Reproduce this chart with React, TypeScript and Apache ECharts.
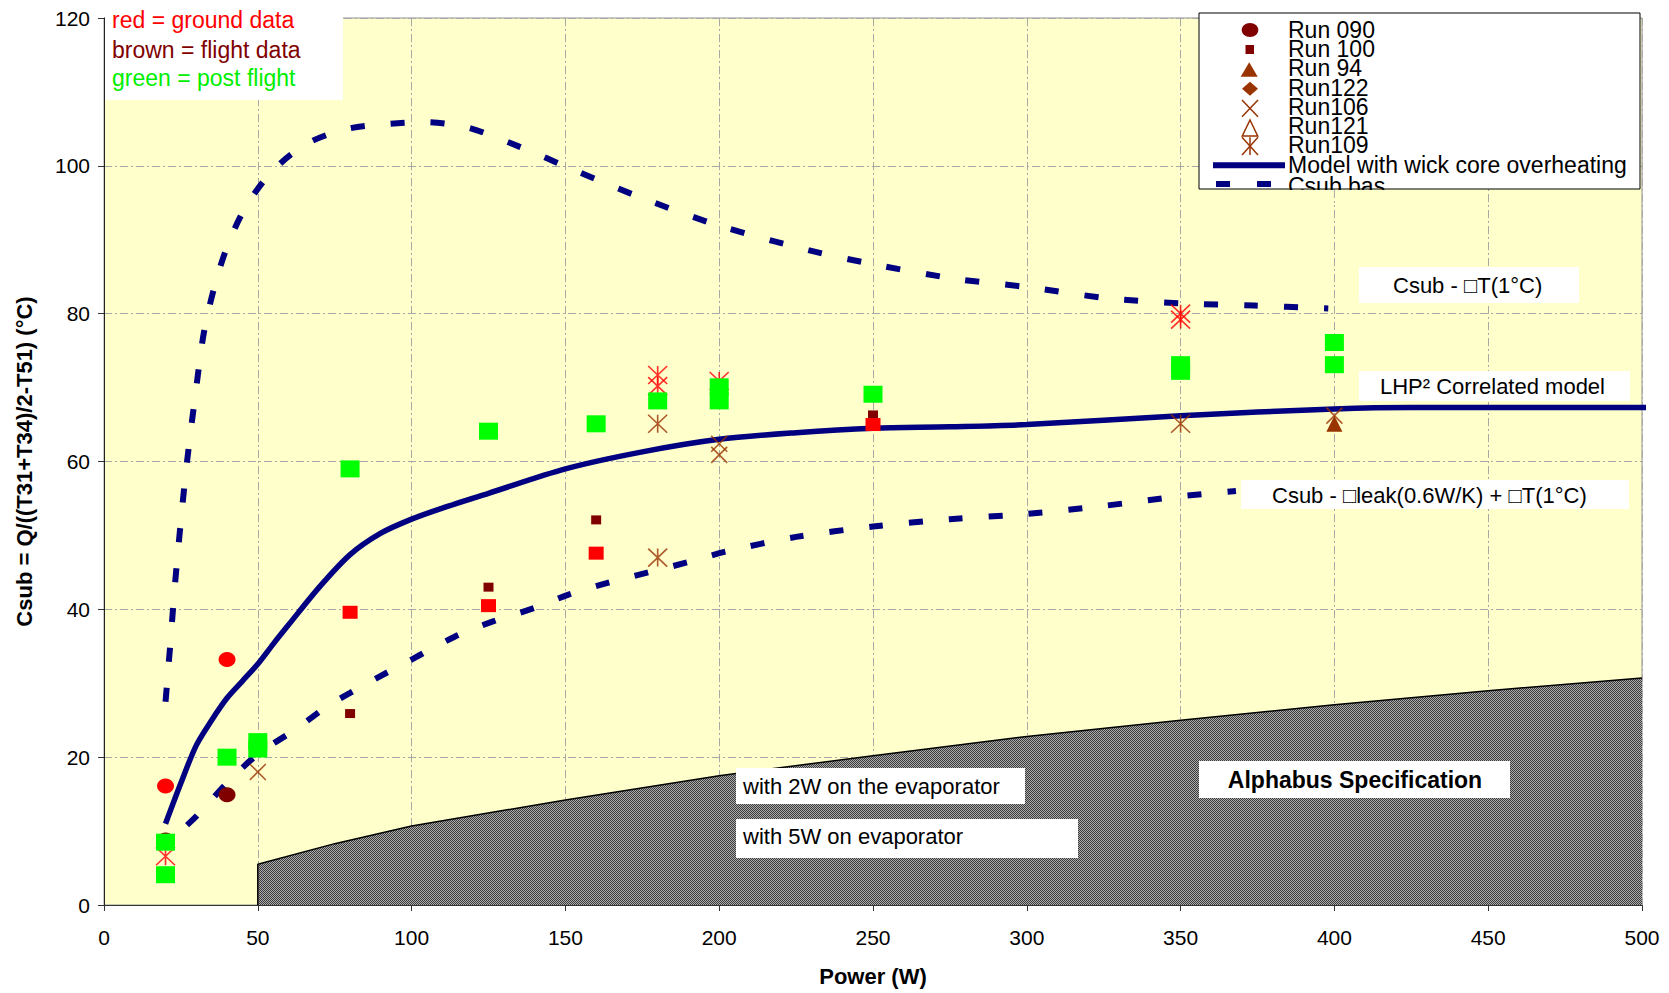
import React, { useEffect, useRef } from "react";
import * as echarts from "echarts";

// ---------- axis ranges ----------
const xMin = 0, xMax = 500, xStep = 50;
const yMin = 0, yMax = 120, yStep = 20;

// ---------- curves ----------
const modelX = [20, 25, 30, 35, 40, 45, 50, 55, 60, 70, 80, 90, 100, 110, 125, 150, 175, 200, 225, 250, 275, 300, 350, 400, 425, 500, 503];
const modelY = [11, 16.5, 21.6, 25, 28, 30.3, 32.6, 35.3, 37.9, 43, 47.4, 50.3, 52.2, 53.7, 55.7, 59, 61.3, 63, 63.9, 64.5, 64.7, 65, 66.2, 67.1, 67.3, 67.3, 67.3];

const upperX = [20, 21.5, 23, 25, 27, 30, 32.5, 36, 40, 46, 55, 66, 78, 90, 104, 118, 135, 153, 174, 200, 229, 250, 277, 300, 326, 350, 374, 398];
const upperY = [27.5, 35, 43, 52, 60, 70, 77.5, 83.8, 89, 94.4, 99.4, 103, 104.9, 105.6, 105.9, 105.2, 102.6, 99.4, 95.8, 91.9, 88.6, 86.7, 84.7, 83.6, 82.1, 81.4, 81.1, 80.7];

const lowerX = [27, 30, 40, 50, 62, 73, 80, 90, 100, 114, 126, 140, 151, 164, 177, 190, 202, 225, 250, 275, 300, 325, 350, 368];
const lowerY = [10.8, 12, 16.5, 20.4, 23.7, 27, 28.7, 31, 33.2, 36.3, 38.3, 40.2, 42, 43.6, 45, 46.4, 47.8, 49.8, 51.2, 52.2, 52.9, 54, 55.3, 56];

const specX = [50, 50, 75, 100, 150, 200, 250, 300, 350, 400, 450, 500];
const specY = [0, 5.5, 8.3, 10.7, 14.2, 17.5, 20.2, 22.8, 25, 27.1, 29, 30.7];

// ---------- measured points ----------
const groundCircles = [[20, 16.1], [40, 33.2]];
const flightCircles = [[20, 8.8], [40, 14.9]];
const groundSquares = [[80, 39.6], [125, 40.5], [160, 47.6], [250, 65.0]];
const flightSquares = [[80, 25.9], [125, 43.0], [160, 52.1], [250, 66.3]];
const groundStars = [[20, 6.6], [180, 71.7], [180, 70.2], [200, 70.9], [350, 80.0], [350, 79.2]];
const flightStars = [[180, 47.0], [180, 65.1], [350, 65.1]];
const flightCrosses = [[50, 18.0], [200, 62.4], [200, 60.9], [400, 66.2]];
const flightTriangles = [[400, 65.1]];
const postFlight = [[20, 4.1], [20, 8.5], [40, 20.0], [50, 22.1], [50, 21.1], [80, 59.0], [125, 64.1], [160, 65.1], [180, 68.2], [200, 70.1], [200, 68.2], [250, 69.1], [350, 73.1], [350, 72.2], [400, 76.1], [400, 73.1]];

// ---------- texts ----------
const legendLabels = ["Run 090", "Run 100", "Run 94", "Run122", "Run106", "Run121", "Run109", "Model with wick core overheating", "Csub bas"];
const noteLines = ["red = ground data", "brown = flight data", "green = post flight"];
const noteColors = ["#FF0000", "#800000", "#00EE00"];
const xName = "Power (W)";
const yName = "Csub = Q/((T31+T34)/2-T51) (°C)";

const zip = (xs: number[], ys: number[]) => xs.map((x, i) => [x, ys[i]]);

const FONT = '"Liberation Sans", Arial, sans-serif';
const NAVY = "#000080";
const SIENNA = "#993300";
const DARKRED = "#800000";

const starPath = "path://M0,0L20,20M20,0L0,20M10,0L10,20";
const crossPath = "path://M0,0L20,20M20,0L0,20";

function makeChecker(): string {
  const c = document.createElement("canvas");
  c.width = 2;
  c.height = 2;
  const ctx = c.getContext("2d")!;
  ctx.fillStyle = "#aaaaaa";
  ctx.fillRect(0, 0, 2, 2);
  ctx.fillStyle = "#3c3c3c";
  ctx.fillRect(0, 0, 1, 1);
  ctx.fillRect(1, 1, 1, 1);
  return c.toDataURL();
}

function txt(text: string, x: number, y: number, size: number, opts: any = {}) {
  return {
    type: "text",
    z: opts.z ?? 101,
    style: {
      text,
      x,
      y,
      fill: opts.fill ?? "#000",
      fontSize: size,
      fontFamily: FONT,
      fontWeight: opts.bold ? "bold" : "normal",
      lineHeight: opts.lh,
      textAlign: opts.align ?? "left",
      align: opts.align ?? "left",
      textVerticalAlign: "middle",
      verticalAlign: "middle",
    },
  };
}

function box(x: number, y: number, w: number, h: number, opts: any = {}) {
  return {
    type: "rect",
    z: opts.z ?? 100,
    shape: { x, y, width: w, height: h },
    style: { fill: opts.fill ?? "#fff", stroke: opts.stroke ?? null, lineWidth: opts.lw ?? 0 },
  };
}

function ln(x1: number, y1: number, x2: number, y2: number, color: string, w = 1.5, z = 102, dash?: number[]) {
  return {
    type: "line",
    z,
    shape: { x1, y1, x2, y2 },
    style: { stroke: color, lineWidth: w, lineDash: dash },
  };
}

export default function App() {
  const ref = useRef<HTMLDivElement>(null);

  useEffect(() => {
    if (!ref.current) return;
    const chart = echarts.init(ref.current, null, { renderer: "svg" });
    const pattern = makeChecker();

    const scatter = (data: number[][], symbol: string, size: any, color: string, stroke?: boolean, z = 5) => ({
      type: "scatter",
      data,
      symbol,
      symbolSize: size,
      z,
      silent: true,
      itemStyle: stroke
        ? { color: "rgba(0,0,0,0)", borderColor: color, borderWidth: 1.6 }
        : { color, opacity: 1 },
    });

    const legendRowY = [30, 49.2, 68.3, 87.5, 106.7, 125.8, 145, 165, 186];
    const mx = 1250;

    const graphic: any[] = [
      // legend box
      box(1199, 13, 441, 176, { stroke: "#000", lw: 1, z: 99 }),
      ...legendLabels.map((t, i) => txt(t, 1288, legendRowY[i], 23, { lh: 18 })),
      // cover for clipped last entry
      box(1284, 190, 112, 14, { fill: "#FFFFCC", z: 103 }),
      ln(1334.4, 190, 1334.4, 204, "#a8a8a8", 1, 104, [8, 3, 2, 3]),
      // legend markers
      { type: "ellipse", z: 102, shape: { cx: mx, cy: 30, rx: 8.3, ry: 7 }, style: { fill: DARKRED } },
      { type: "rect", z: 102, shape: { x: mx - 4.5, y: 45, width: 8.5, height: 9 }, style: { fill: DARKRED } },
      { type: "polygon", z: 102, shape: { points: [[mx - 0.8, 62.3], [mx + 7.7, 76.7], [mx - 9.3, 76.7]] }, style: { fill: SIENNA } },
      { type: "polygon", z: 102, shape: { points: [[mx, 81.7], [mx + 8, 88.7], [mx, 95.7], [mx - 8, 88.7]] }, style: { fill: SIENNA } },
      ln(mx - 8, 100, mx + 8, 116.7, SIENNA),
      ln(mx + 8, 100, mx - 8, 116.7, SIENNA),
      { type: "polygon", z: 102, shape: { points: [[mx, 120], [mx + 7.7, 136], [mx - 7.7, 136]] }, style: { fill: "none", stroke: SIENNA, lineWidth: 1.5 } },
      ln(mx - 8, 137.3, mx + 8, 155, SIENNA),
      ln(mx + 8, 137.3, mx - 8, 155, SIENNA),
      ln(mx, 137.3, mx, 155, SIENNA),
      box(1213, 162.3, 72, 6, { fill: NAVY, z: 102 }),
      box(1216, 181, 14, 6, { fill: NAVY, z: 102 }),
      box(1257, 181, 14, 6, { fill: NAVY, z: 102 }),

      // top-left note
      box(105, 0, 238, 100),
      ...noteLines.map((t, i) => txt(t, 112, [20, 50, 78][i], 23, { fill: noteColors[i] })),

      // annotations
      box(1359, 267, 220, 36),
      txt("Csub - \u25A1T(1°C)", 1393, 285, 22),
      box(1359, 371, 271, 30),
      txt("LHP² Correlated model", 1380, 386, 22),
      box(1241, 480, 388, 29),
      txt("Csub - \u25A1leak(0.6W/K) + \u25A1T(1°C)", 1272, 495, 22),
      box(736, 768, 289, 36),
      txt("with 2W on the evaporator", 743, 786, 22),
      box(736, 819, 342, 39),
      txt("with 5W on evaporator", 743, 836, 22),
      box(1199, 761, 311, 37),
      txt("Alphabus Specification", 1355, 780, 23, { bold: true, align: "center" }),
    ];

    const option: any = {
      animation: false,
      backgroundColor: "#fff",
      grid: {
        left: 104,
        right: 27,
        top: 18,
        bottom: 88,
        show: true,
        backgroundColor: "#FFFFCC",
        borderColor: "#909090",
        borderWidth: 1,
      },
      xAxis: {
        type: "value",
        min: xMin,
        max: xMax,
        interval: xStep,
        name: xName,
        nameLocation: "middle",
        nameGap: 60,
        nameTextStyle: { fontFamily: FONT, fontSize: 22, fontWeight: "bold", color: "#000" },
        axisLine: { show: true, onZero: false, lineStyle: { color: "#333", width: 1 } },
        axisTick: { show: true, length: 6, lineStyle: { color: "#333" } },
        axisLabel: { fontFamily: FONT, fontSize: 21, color: "#000", margin: 22 },
        splitLine: { show: true, lineStyle: { color: "#a8a8a8", width: 1, type: [8, 3, 2, 3] } },
      },
      yAxis: {
        type: "value",
        min: yMin,
        max: yMax,
        interval: yStep,
        name: yName,
        nameLocation: "middle",
        nameRotate: 90,
        nameGap: 69,
        nameTextStyle: { fontFamily: FONT, fontSize: 22, fontWeight: "bold", color: "#000" },
        axisLine: { show: true, onZero: false, lineStyle: { color: "#222", width: 1 } },
        axisTick: { show: true, length: 6, lineStyle: { color: "#333" } },
        axisLabel: { fontFamily: FONT, fontSize: 21, color: "#000", margin: 14 },
        splitLine: { show: true, lineStyle: { color: "#a8a8a8", width: 1, type: [8, 3, 2, 3] } },
      },
      series: [
        {
          type: "line",
          name: "Alphabus Specification",
          data: zip(specX, specY),
          symbol: "none",
          silent: true,
          z: 1,
          lineStyle: { color: "#000", width: 1.5 },
          areaStyle: {
            color: { image: pattern, repeat: "repeat", imageWidth: 2, imageHeight: 2 },
            opacity: 1,
          },
        },
        {
          type: "line",
          name: "Model with wick core overheating",
          data: zip(modelX, modelY),
          symbol: "none",
          smooth: 0.3,
          clip: false,
          silent: true,
          z: 2,
          lineStyle: { color: NAVY, width: 5.5 },
        },
        {
          type: "line",
          name: "Csub - ΔT(1°C)",
          data: zip(upperX, upperY),
          symbol: "none",
          smooth: 0.3,
          silent: true,
          z: 2,
          lineStyle: { color: NAVY, width: 6, type: [14, 26], cap: "butt" },
        },
        {
          type: "line",
          name: "Csub - Δleak(0.6W/K) + ΔT(1°C)",
          data: zip(lowerX, lowerY),
          symbol: "none",
          smooth: 0.3,
          silent: true,
          z: 2,
          lineStyle: { color: NAVY, width: 6, type: [14, 26], cap: "butt" },
        },
        scatter(groundCircles, "circle", [17, 15], "#FF0000"),
        scatter(flightCircles, "circle", [17, 15], DARKRED),
        scatter(flightSquares, "rect", [10, 9], DARKRED),
        scatter(groundSquares, "rect", [15, 13], "#FF0000"),
        scatter(groundStars, starPath, [19, 18], "#FF0000", true),
        scatter(flightStars, starPath, [19, 18], SIENNA, true),
        scatter(flightCrosses, crossPath, [16, 16], SIENNA, true),
        scatter(flightTriangles, "triangle", [16, 16], SIENNA),
        scatter(postFlight, "rect", [19, 17], "#00FF00", false, 6),
      ],
      graphic,
    };

    chart.setOption(option);
    return () => chart.dispose();
  }, []);

  return (
    <div
      ref={ref}
      style={{ position: "absolute", left: 0, top: 0, width: 1669, height: 993 }}
    />
  );
}
